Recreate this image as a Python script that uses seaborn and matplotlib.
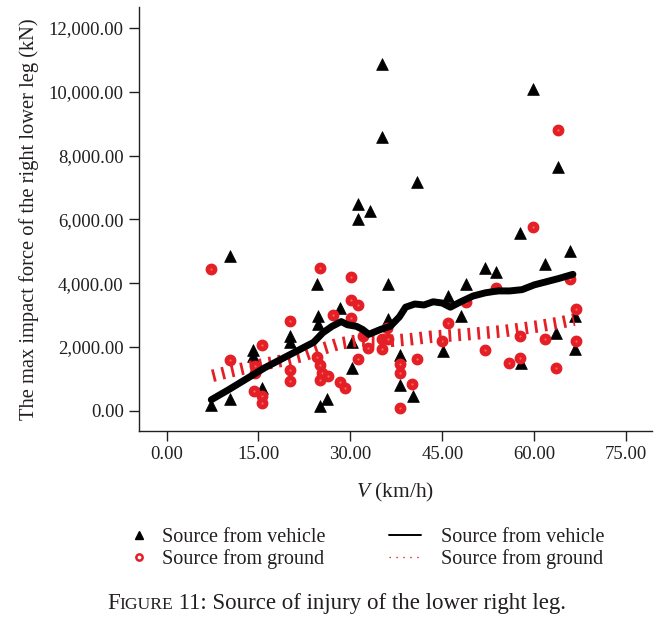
import matplotlib
matplotlib.use("Agg")
import matplotlib.pyplot as plt
from matplotlib.lines import Line2D
import numpy as np
import pandas as pd
import seaborn as sns

# Impact speed (km/h) and peak force (N) -- injuries caused by the vehicle
veh_speed = [7.3, 10.3, 10.3, 14.1, 14.1, 15.5, 20.1, 20.1, 24.5, 24.7, 24.7,
             25.0, 26.1, 28.3, 30.2, 30.2, 31.3, 31.3, 33.2, 35.1, 35.1, 36.2,
             36.2, 38.1, 38.1, 40.2, 40.9, 45.1, 45.9, 48.1, 48.9, 51.9, 53.8,
             57.6, 57.9, 59.8, 61.7, 63.6, 63.8, 65.8, 66.6, 66.6]
veh_force = [190, 360, 4860, 1910, 1720, 730, 2350, 2170, 3990, 2980, 2720,
             150, 370, 3240, 2150, 1360, 6480, 6020, 6270, 10870, 8570, 3990,
             2880, 1740, 800, 480, 7160, 1880, 3600, 2980, 3970, 4490, 4340,
             5590, 1510, 10080, 4600, 2450, 7630, 5020, 2980, 1930]

# Injuries caused by the ground
gnd_speed = [7.3, 10.3, 15.5, 14.4, 14.4, 14.2, 15.5, 15.5, 20.1, 20.1, 20.1,
             25.1, 30.1, 30.1, 31.2, 27.2, 30.1, 24.6, 25.0, 25.3, 26.3, 25.0,
             28.3, 29.1, 31.3, 32.1, 32.9, 35.1, 35.1, 36.1, 36.0, 38.1, 38.1,
             40.1, 40.8, 38.1, 45.0, 45.9, 48.8, 51.9, 53.8, 55.9, 57.7, 57.6,
             59.8, 61.7, 63.6, 63.8, 65.8, 66.8, 66.8]
gnd_force = [4460, 1580, 2070, 1410, 1200, 630, 470, 260, 2810, 1270, 930,
             4470, 4200, 3490, 3330, 2990, 2920, 1690, 1430, 1190, 1100, 960,
             900, 710, 1620, 2350, 1980, 2250, 1930, 2250, 2610, 1460, 1200,
             840, 1620, 100, 2190, 2770, 3420, 1910, 3840, 1510, 1670, 2350,
             5750, 2250, 1360, 8800, 4120, 3180, 2190]

# Trend curves
veh_trend_x = [7.3, 10, 13, 16, 19, 22, 24, 25.5, 27, 28.5, 29.5, 31, 32, 33,
               34, 35, 36.5, 38, 39, 40.5, 42, 43.5, 45, 46.3, 48, 50, 52, 54,
               56, 58, 60, 62, 64, 66.3]
veh_trend_y = [350, 650, 1000, 1350, 1650, 1950, 2150, 2450, 2650, 2800, 2700,
               2650, 2550, 2400, 2480, 2560, 2650, 2950, 3250, 3350, 3320, 3420,
               3380, 3250, 3420, 3600, 3700, 3760, 3760, 3800, 3950, 4050, 4150,
               4280]
gnd_trend_x = [7.5, 10, 13, 16, 19, 22, 25, 28, 31, 34, 37, 40, 43, 46, 49,
               52, 55, 58, 61, 64, 66.5]
gnd_trend_y = [1100, 1220, 1350, 1470, 1580, 1720, 1920, 2100, 2200, 2200,
               2200, 2250, 2320, 2360, 2400, 2450, 2500, 2580, 2660, 2760, 2860]

x_ticks = [0, 15, 30, 45, 60, 75]
y_ticks = [0, 2000, 4000, 6000, 8000, 10000, 12000]

legend_labels = ["Source from vehicle", "Source from ground"]
y_label = "The max impact force of the right lower leg (kN)"
x_label = "$V$ (km/h)"
caption_rest = " 11: Source of injury of the lower right leg."

RED = "#e41f26"
INK = "#231f20"

sns.set_theme(style="ticks")
plt.rcParams["font.family"] = ["Liberation Serif", "DejaVu Serif"]
plt.rcParams["mathtext.fontset"] = "custom"
plt.rcParams["mathtext.it"] = "Liberation Serif:italic"
plt.rcParams["mathtext.rm"] = "Liberation Serif"

fig = plt.figure(figsize=(6.64, 6.25), dpi=100)
ax = fig.add_axes([0.2093, 0.3109, 0.7726, 0.678])

veh = pd.DataFrame({"speed": veh_speed, "force": veh_force})
gnd = pd.DataFrame({"speed": gnd_speed, "force": gnd_force})
vt = pd.DataFrame({"speed": veh_trend_x, "force": veh_trend_y})
gt = pd.DataFrame({"speed": gnd_trend_x, "force": gnd_trend_y})

sns.scatterplot(data=veh, x="speed", y="force", ax=ax, marker="^", s=72,
                color="black", edgecolor="black", linewidth=0.5, zorder=3)
sns.scatterplot(data=gnd, x="speed", y="force", ax=ax, marker="o", s=26,
                facecolor="#f26a6a", edgecolor=RED, linewidth=3.4, zorder=3)
sns.lineplot(data=gt, x="speed", y="force", ax=ax, color=RED, linewidth=9,
             estimator=None, sort=False, zorder=4)
ax.lines[-1].set_linestyle((0, (0.22, 0.55)))
ax.lines[-1].set_dash_capstyle("butt")
sns.lineplot(data=vt, x="speed", y="force", ax=ax, color="black", linewidth=5,
             estimator=None, sort=False, zorder=5)
ax.lines[-1].set_solid_joinstyle("round")
ax.lines[-1].set_solid_capstyle("round")

ax.set_xlim(-4.5, 79.2)
ax.set_ylim(-620, 12660)
ax.set_xticks(x_ticks)
ax.set_yticks(y_ticks)
ax.set_xticklabels([f"{v:,.2f}" for v in x_ticks])
ax.set_yticklabels([f"{v:,.2f}" for v in y_ticks])
ax.tick_params(axis="both", direction="out", length=7, width=1.0,
               color=INK, labelcolor=INK, labelsize=13.5)
ax.tick_params(axis="x", pad=4)
ax.tick_params(axis="y", pad=4)
for side in ("top", "right"):
    ax.spines[side].set_visible(False)
for side in ("left", "bottom"):
    ax.spines[side].set_color(INK)
    ax.spines[side].set_linewidth(1.0)

ax.set_xlabel(x_label, fontsize=15.5, color=INK, labelpad=13)
ax.set_ylabel(y_label, fontsize=14.8, color=INK, labelpad=7)

# Legends: markers on the left, trend curves on the right
marker_handles = [
    Line2D([], [], linestyle="none", marker="^", markersize=6,
           color="black"),
    Line2D([], [], linestyle="none", marker="o", markersize=4.5,
           markerfacecolor="white", markeredgecolor=RED, markeredgewidth=1.8),
]
line_handles = [
    Line2D([], [], color="black", linewidth=1.4),
    Line2D([], [], color=RED, linewidth=1.0, linestyle=(0, (1, 4))),
]
fig.legend(marker_handles, legend_labels, loc="upper left",
           bbox_to_anchor=(125 / 664, 1 - 528 / 625), frameon=False,
           fontsize=14.5, handlelength=1.4, handletextpad=0.45,
           labelspacing=0.12, borderaxespad=0, borderpad=0,
           labelcolor=INK)
fig.legend(line_handles, legend_labels, loc="upper left",
           bbox_to_anchor=(389 / 664, 1 - 528 / 625), frameon=False,
           fontsize=14.5, handlelength=1.6, handletextpad=1.0,
           labelspacing=0.12, borderaxespad=0, borderpad=0,
           labelcolor=INK)

# Caption with small-caps "Figure"
cap_y = 1 - 609 / 625
t1 = fig.text(107 / 664, cap_y, "F", fontsize=16.5, color=INK, va="baseline")
t2 = fig.text(0, 0, "IGURE", fontsize=12.6, color=INK)
t3 = fig.text(0, 0, caption_rest, fontsize=16.5, color=INK)
fig.canvas.draw()
r = fig.canvas.get_renderer()
x = t1.get_window_extent(r).x1
t2.set_position((x / fig.bbox.width, cap_y))
t2.set_va("baseline")
fig.canvas.draw()
x = t2.get_window_extent(r).x1
t3.set_position((x / fig.bbox.width, cap_y))
t3.set_va("baseline")

fig.savefig("out.png", dpi=100)
